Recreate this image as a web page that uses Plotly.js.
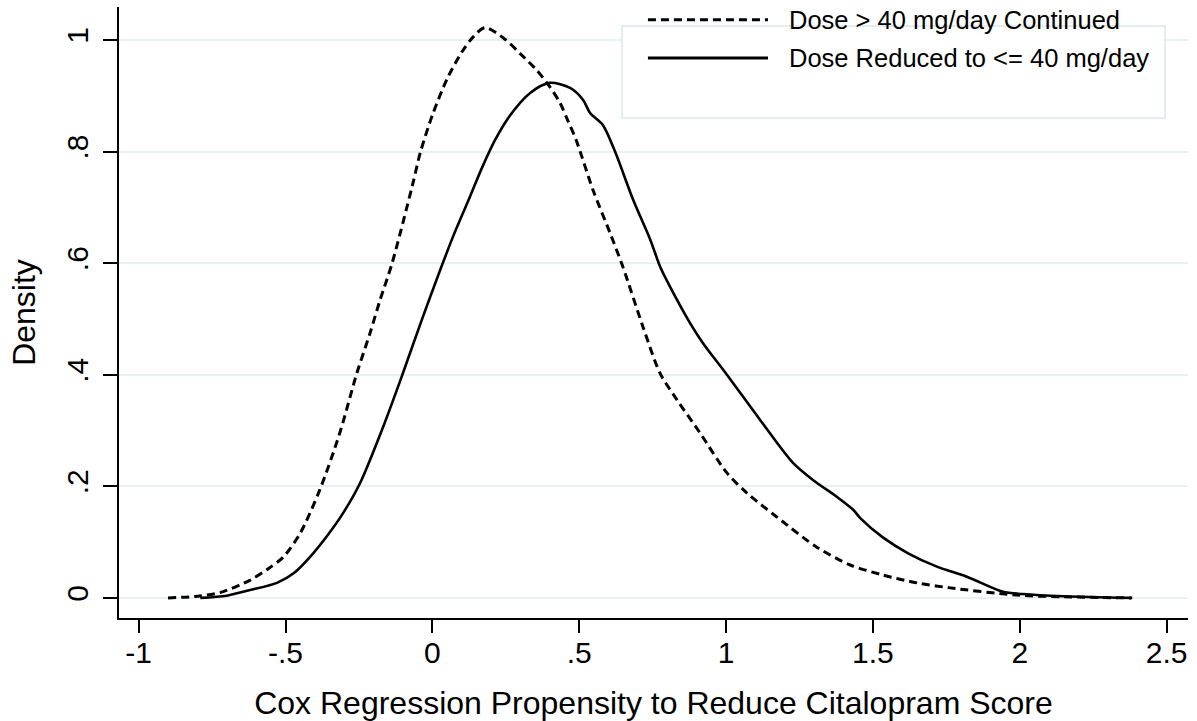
<!DOCTYPE html>
<html>
<head>
<meta charset="utf-8">
<script src="https://cdn.plot.ly/plotly-3.0.1.min.js"></script>
<style>html,body{margin:0;padding:0;background:#fff;}#chart{width:1197px;height:721px;}</style>
</head>
<body>
<div id="chart"></div>
<script>
// Dose > 40 mg/day Continued (dashed)
var contX = [-0.90,-0.80,-0.72,-0.62,-0.56,-0.508,-0.45,-0.383,-0.315,-0.257,-0.212,-0.178,-0.137,-0.069,-0.04,0.0,0.05,0.10,0.14,0.18,0.25,0.30,0.355,0.40,0.435,0.46,0.49,0.547,0.605,0.649,0.717,0.775,0.833,0.911,1.003,1.071,1.173,1.309,1.423,1.535,1.65,1.763,1.99,2.15,2.38];
var contY = [0,0.003,0.010,0.032,0.052,0.073,0.116,0.194,0.296,0.403,0.475,0.534,0.60,0.737,0.80,0.865,0.93,0.978,1.006,1.022,1.0,0.975,0.946,0.916,0.887,0.857,0.82,0.731,0.654,0.593,0.486,0.403,0.355,0.296,0.224,0.188,0.145,0.091,0.059,0.041,0.027,0.018,0.005,0.002,0];
// Dose Reduced to <= 40 mg/day (solid)
var redX = [-0.79,-0.70,-0.621,-0.529,-0.47,-0.417,-0.36,-0.304,-0.246,-0.168,-0.10,-0.032,0.07,0.128,0.17,0.215,0.265,0.333,0.40,0.469,0.514,0.537,0.58,0.622,0.684,0.742,0.776,0.81,0.877,0.921,1.003,1.116,1.228,1.297,1.378,1.433,1.457,1.535,1.62,1.718,1.82,1.943,2.01,2.15,2.383];
var redY = [0,0.004,0.014,0.027,0.045,0.073,0.11,0.152,0.206,0.306,0.403,0.504,0.647,0.719,0.772,0.822,0.865,0.905,0.923,0.914,0.892,0.869,0.848,0.80,0.713,0.642,0.593,0.557,0.493,0.457,0.40,0.319,0.242,0.211,0.181,0.158,0.143,0.108,0.08,0.056,0.038,0.011,0.007,0.003,0];

var xTickVals = [-1,-0.5,0,0.5,1,1.5,2,2.5];
var xTickText = ["-1","-.5","0",".5","1","1.5","2","2.5"];
var yTickVals = [0,0.2,0.4,0.6,0.8,1];
var yTickText = ["0",".2",".4",".6",".8","1"];
var legendNames = ["Dose > 40 mg/day Continued", "Dose Reduced to <= 40 mg/day"];

var FONT = "Arial, 'Liberation Sans', sans-serif";

var traces = [
  {x: contX, y: contY, type: 'scatter', mode: 'lines', name: legendNames[0], showlegend: false,
   line: {color: '#000', width: 3, dash: '8px,5px', shape: 'spline', smoothing: 0.8}},
  {x: redX, y: redY, type: 'scatter', mode: 'lines', name: legendNames[1], showlegend: false,
   line: {color: '#000', width: 2.6, shape: 'spline', smoothing: 0.8}}
];

var layout = {
  width: 1197, height: 721,
  margin: {l: 119, r: 9, t: 7, b: 103},
  paper_bgcolor: '#fff', plot_bgcolor: '#fff',
  font: {family: FONT, color: '#000'},
  showlegend: false,
  xaxis: {
    range: [-1.067, 2.573], tickvals: xTickVals, ticktext: xTickText,
    showgrid: false, zeroline: false, showline: true, linecolor: '#000', linewidth: 2,
    ticks: 'outside', ticklen: 13, tickwidth: 2, tickcolor: '#000', ticklabelstandoff: -6,
    tickfont: {size: 30, family: FONT, color: '#000'},
    title: {text: 'Cox Regression Propensity to Reduce Citalopram Score', font: {size: 32, family: FONT, color: '#000'}, standoff: 26}
  },
  yaxis: {
    range: [-0.036, 1.059], tickvals: yTickVals, ticktext: yTickText,
    showgrid: true, gridcolor: '#e8f0f2', gridwidth: 2, zeroline: false,
    showline: true, linecolor: '#000', linewidth: 2,
    ticks: 'outside', ticklen: 14, tickwidth: 2, tickcolor: '#000', tickangle: -90, ticklabelstandoff: 3,
    tickfont: {size: 30, family: FONT, color: '#000'},
    title: {text: 'Density', font: {size: 32, family: FONT, color: '#000'}, standoff: 16}
  },
  shapes: [
    {type: 'rect', xref: 'paper', yref: 'paper', x0: 0.4705, x1: 0.9785, y0: 0.818, y1: 0.969,
     line: {color: '#e3ecee', width: 2}, fillcolor: '#fff', layer: 'above'},
    {type: 'line', xref: 'paper', yref: 'paper', x0: 0.4948, x1: 0.6071, y0: 0.979, y1: 0.979,
     line: {color: '#000', width: 3, dash: '8px,5px'}, layer: 'above'},
    {type: 'line', xref: 'paper', yref: 'paper', x0: 0.4948, x1: 0.6071, y0: 0.9165, y1: 0.9165,
     line: {color: '#000', width: 3}, layer: 'above'}
  ],
  annotations: [
    {xref: 'paper', yref: 'paper', x: 0.6249, y: 0.979, xanchor: 'left', yanchor: 'middle', showarrow: false,
     text: legendNames[0], font: {size: 25.5, family: FONT, color: '#000'}},
    {xref: 'paper', yref: 'paper', x: 0.6249, y: 0.9165, xanchor: 'left', yanchor: 'middle', showarrow: false,
     text: legendNames[1], font: {size: 25.5, family: FONT, color: '#000'}}
  ]
};

Plotly.newPlot('chart', traces, layout, {displayModeBar: false, staticPlot: true});
</script>
</body>
</html>
